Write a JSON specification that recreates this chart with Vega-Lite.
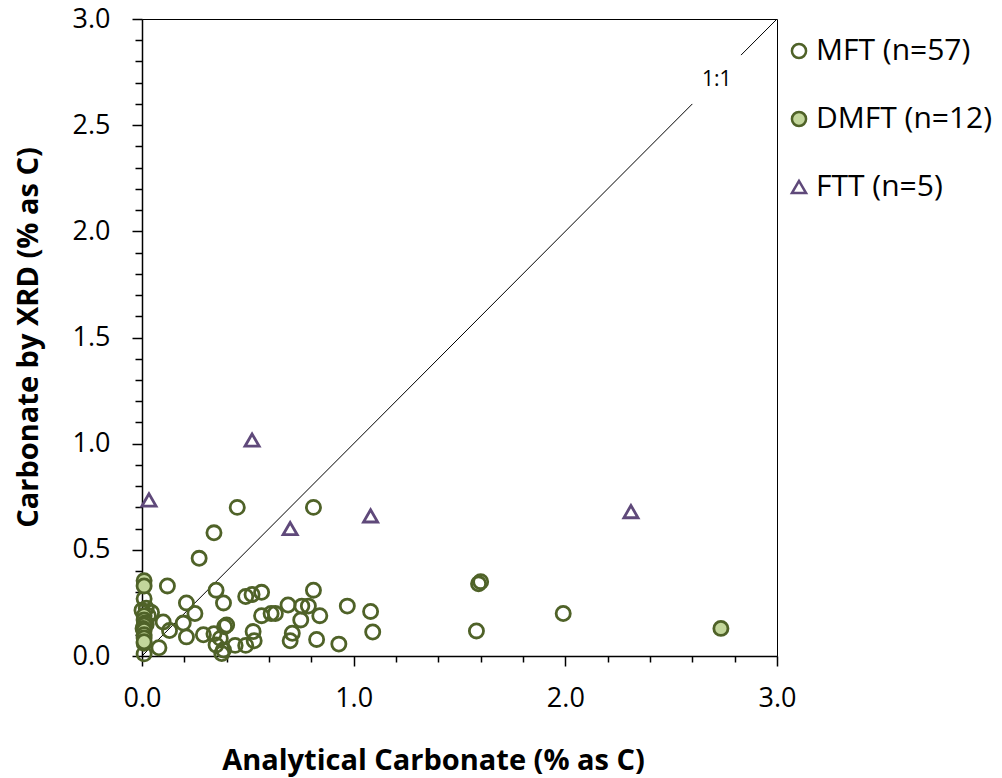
{
  "$schema": "https://vega.github.io/schema/vega-lite/v6.json",
  "width": 635,
  "height": 637,
  "autosize": {"type": "none"},
  "padding": {"left": 142, "top": 19, "right": 225, "bottom": 122},
  "background": "white",
  "config": {
    "font": "Open Sans",
    "view": {"stroke": "#000", "strokeWidth": 1},
    "axis": {"grid": false, "domainColor": "#000", "domainWidth": 1.5, "tickColor": "#000", "tickWidth": 1.5, "labelColor": "#000", "titleColor": "#000", "labelFont": "Open Sans", "titleFont": "Open Sans", "labelFontSize": 27, "titleFontSize": 29, "titleFontWeight": "bold"},
    "legend": {"orient": "none", "legendX": 642, "legendY": 17, "labelFont": "Open Sans", "labelFontSize": 30, "labelColor": "#000", "labelOffset": 2, "rowPadding": 38, "symbolStrokeWidth": 2.5, "padding": 0, "labelLimit": 300}
  },
  "datasets": {
    "pts": [
      {"s": "MFT (n=57)", "x": 0.27, "y": 0.46},
      {"s": "MFT (n=57)", "x": 0.34, "y": 0.58},
      {"s": "MFT (n=57)", "x": 0.45, "y": 0.70},
      {"s": "MFT (n=57)", "x": 0.81, "y": 0.70},
      {"s": "MFT (n=57)", "x": 0.12, "y": 0.33},
      {"s": "MFT (n=57)", "x": 0.35, "y": 0.31},
      {"s": "MFT (n=57)", "x": 0.01, "y": 0.27},
      {"s": "MFT (n=57)", "x": 0.21, "y": 0.25},
      {"s": "MFT (n=57)", "x": 0.385, "y": 0.25},
      {"s": "MFT (n=57)", "x": 0.49, "y": 0.28},
      {"s": "MFT (n=57)", "x": 0.52, "y": 0.29},
      {"s": "MFT (n=57)", "x": 0.565, "y": 0.30},
      {"s": "MFT (n=57)", "x": 0.81, "y": 0.31},
      {"s": "MFT (n=57)", "x": 0.69, "y": 0.24},
      {"s": "MFT (n=57)", "x": 0.755, "y": 0.235},
      {"s": "MFT (n=57)", "x": 0.786, "y": 0.235},
      {"s": "MFT (n=57)", "x": 0.84, "y": 0.19},
      {"s": "MFT (n=57)", "x": 0.75, "y": 0.17},
      {"s": "MFT (n=57)", "x": 0.63, "y": 0.20},
      {"s": "MFT (n=57)", "x": 0.61, "y": 0.20},
      {"s": "MFT (n=57)", "x": 0.565, "y": 0.19},
      {"s": "MFT (n=57)", "x": 0.25, "y": 0.20},
      {"s": "MFT (n=57)", "x": 0.10, "y": 0.16},
      {"s": "MFT (n=57)", "x": 0.13, "y": 0.12},
      {"s": "MFT (n=57)", "x": 0.195, "y": 0.155},
      {"s": "MFT (n=57)", "x": 0.21, "y": 0.09},
      {"s": "MFT (n=57)", "x": 0.29, "y": 0.10},
      {"s": "MFT (n=57)", "x": 0.34, "y": 0.105},
      {"s": "MFT (n=57)", "x": 0.37, "y": 0.083},
      {"s": "MFT (n=57)", "x": 0.39, "y": 0.138},
      {"s": "MFT (n=57)", "x": 0.40, "y": 0.146},
      {"s": "MFT (n=57)", "x": 0.35, "y": 0.052},
      {"s": "MFT (n=57)", "x": 0.385, "y": 0.028},
      {"s": "MFT (n=57)", "x": 0.377, "y": 0.012},
      {"s": "MFT (n=57)", "x": 0.44, "y": 0.05},
      {"s": "MFT (n=57)", "x": 0.49, "y": 0.05},
      {"s": "MFT (n=57)", "x": 0.53, "y": 0.072},
      {"s": "MFT (n=57)", "x": 0.525, "y": 0.115},
      {"s": "MFT (n=57)", "x": 0.71, "y": 0.107},
      {"s": "MFT (n=57)", "x": 0.70, "y": 0.072},
      {"s": "MFT (n=57)", "x": 0.825, "y": 0.078},
      {"s": "MFT (n=57)", "x": 0.93, "y": 0.056},
      {"s": "MFT (n=57)", "x": 0.08, "y": 0.039},
      {"s": "MFT (n=57)", "x": 0.01, "y": 0.01},
      {"s": "MFT (n=57)", "x": 0.0, "y": 0.215},
      {"s": "MFT (n=57)", "x": 0.02, "y": 0.225},
      {"s": "MFT (n=57)", "x": 0.045, "y": 0.205},
      {"s": "MFT (n=57)", "x": 0.03, "y": 0.19},
      {"s": "MFT (n=57)", "x": 0.02, "y": 0.15},
      {"s": "MFT (n=57)", "x": 0.97, "y": 0.235},
      {"s": "MFT (n=57)", "x": 1.08, "y": 0.21},
      {"s": "MFT (n=57)", "x": 1.09, "y": 0.113},
      {"s": "MFT (n=57)", "x": 1.58, "y": 0.118},
      {"s": "MFT (n=57)", "x": 1.59, "y": 0.34},
      {"s": "MFT (n=57)", "x": 1.60, "y": 0.35},
      {"s": "MFT (n=57)", "x": 1.99, "y": 0.20},
      {"s": "MFT (n=57)", "x": 0.01, "y": 0.06},
      {"s": "DMFT (n=12)", "x": 0.01, "y": 0.355},
      {"s": "DMFT (n=12)", "x": 0.01, "y": 0.33},
      {"s": "DMFT (n=12)", "x": 0.01, "y": 0.19},
      {"s": "DMFT (n=12)", "x": 0.01, "y": 0.17},
      {"s": "DMFT (n=12)", "x": 0.015, "y": 0.155},
      {"s": "DMFT (n=12)", "x": 0.01, "y": 0.145},
      {"s": "DMFT (n=12)", "x": 0.005, "y": 0.13},
      {"s": "DMFT (n=12)", "x": 0.01, "y": 0.12},
      {"s": "DMFT (n=12)", "x": 0.01, "y": 0.10},
      {"s": "DMFT (n=12)", "x": 0.01, "y": 0.085},
      {"s": "DMFT (n=12)", "x": 0.01, "y": 0.067},
      {"s": "DMFT (n=12)", "x": 2.735, "y": 0.13},
      {"s": "FTT (n=5)", "x": 0.033, "y": 0.735},
      {"s": "FTT (n=5)", "x": 0.52, "y": 1.017},
      {"s": "FTT (n=5)", "x": 0.70, "y": 0.60},
      {"s": "FTT (n=5)", "x": 1.08, "y": 0.66},
      {"s": "FTT (n=5)", "x": 2.31, "y": 0.68}
    ],
    "oneone": [
      {"seg": "a", "x": 0, "y": 0},
      {"seg": "a", "x": 2.6, "y": 2.6},
      {"seg": "b", "x": 2.83, "y": 2.83},
      {"seg": "b", "x": 3, "y": 3}
    ],
    "lbl": [
      {"x": 2.715, "y": 2.715, "t": "1:1"}
    ]
  },
  "encoding": {
    "x": {
      "field": "x", "type": "quantitative",
      "scale": {"domain": [0, 3], "nice": false, "zero": false},
      "axis": {
        "title": "Analytical Carbonate (% as C)",
        "values": [0, 0.2, 0.4, 0.6, 0.8, 1, 1.2, 1.4, 1.6, 1.8, 2, 2.2, 2.4, 2.6, 2.8, 3],
        "labelExpr": "datum.value % 1 == 0 ? format(datum.value, '.1f') : ''",
        "tickSize": {"condition": {"test": "datum.value % 1 == 0", "value": 10}, "value": 6},
        "labelPadding": 19,
        "labelFlush": false,
        "titleX": 291,
        "titleY": 104,
        "titleAlign": "center",
        "titleBaseline": "middle"
      }
    },
    "y": {
      "field": "y", "type": "quantitative",
      "scale": {"domain": [0, 3], "nice": false, "zero": false},
      "axis": {
        "title": "Carbonate by XRD (% as C)",
        "values": [0, 0.1, 0.2, 0.3, 0.4, 0.5, 0.6, 0.7, 0.8, 0.9, 1, 1.1, 1.2, 1.3, 1.4, 1.5, 1.6, 1.7, 1.8, 1.9, 2, 2.1, 2.2, 2.3, 2.4, 2.5, 2.6, 2.7, 2.8, 2.9, 3],
        "labelExpr": "abs(datum.value * 2 - round(datum.value * 2)) < 0.001 ? format(datum.value, '.1f') : ''",
        "tickSize": {"condition": {"test": "abs(datum.value * 2 - round(datum.value * 2)) < 0.001", "value": 10}, "value": 7},
        "labelPadding": 22,
        "labelFlush": false,
        "titleX": -114,
        "titleY": 318,
        "titleAngle": -90,
        "titleAlign": "center",
        "titleBaseline": "middle"
      }
    }
  },
  "layer": [
    {
      "data": {"name": "oneone"},
      "mark": {"type": "line", "color": "#000", "strokeWidth": 1},
      "encoding": {"detail": {"field": "seg"}}
    },
    {
      "data": {"name": "lbl"},
      "mark": {"type": "text", "fontSize": 21, "font": "Open Sans", "color": "#000", "align": "center", "baseline": "middle"},
      "encoding": {"text": {"field": "t"}}
    },
    {
      "data": {"name": "pts"},
      "mark": {"type": "point", "strokeWidth": 2.8, "opacity": 1, "fillOpacity": 1, "strokeOpacity": 1},
      "encoding": {
        "shape": {"field": "s", "type": "nominal", "scale": {"domain": ["MFT (n=57)", "DMFT (n=12)", "FTT (n=5)"], "range": ["circle", "circle", "triangle-up"]}, "title": null},
        "fill": {"field": "s", "type": "nominal", "scale": {"domain": ["MFT (n=57)", "DMFT (n=12)", "FTT (n=5)"], "range": ["transparent", "#c3d69b", "transparent"]}, "title": null},
        "stroke": {"field": "s", "type": "nominal", "scale": {"domain": ["MFT (n=57)", "DMFT (n=12)", "FTT (n=5)"], "range": ["#4f6228", "#4f6228", "#5f497a"]}, "title": null},
        "size": {"field": "s", "type": "nominal", "scale": {"domain": ["MFT (n=57)", "DMFT (n=12)", "FTT (n=5)"], "range": [200, 200, 360]}, "title": null}
      }
    }
  ]
}
